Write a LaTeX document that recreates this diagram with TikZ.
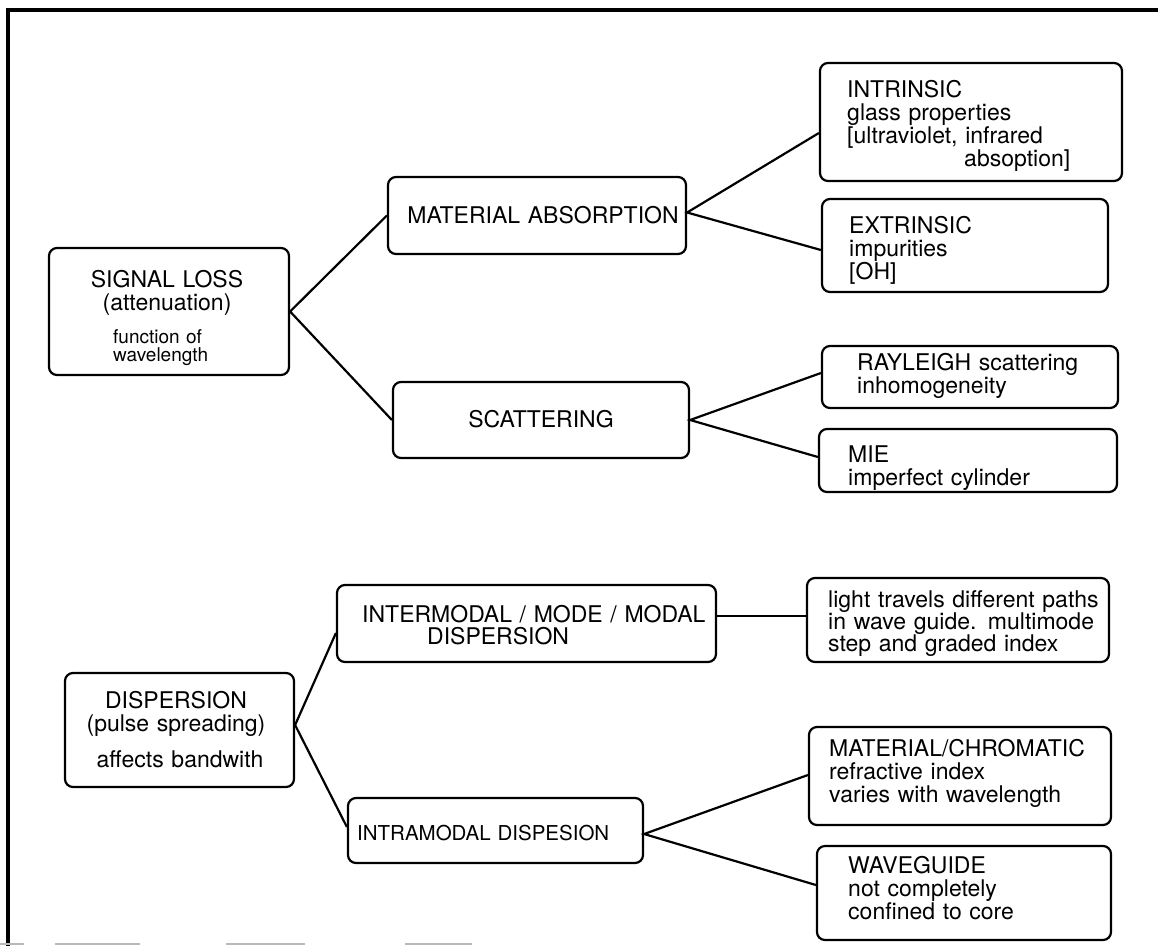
\documentclass[tikz,border=0pt]{standalone}
\usepackage{fontspec}
\setmainfont{TeX Gyre Heros}
\begin{document}
\begin{tikzpicture}[x=1pt, y=-1pt,
  rbox/.style={draw, line width=2.2pt, rounded corners=8pt, inner sep=0pt},
  lt/.style={inner sep=0pt, anchor=base west, text width=380pt, align=left,
             font=\fontsize{23}{23.3}\selectfont},
  ct/.style={inner sep=0pt, anchor=base, text width=280pt, align=center,
             font=\fontsize{23}{23.3}\selectfont},
  small/.style={font=\fontsize{19}{18.5}\selectfont},
  link/.style={line width=2.2pt},
  frame/.style={line width=3.2pt},
  scanline/.style={line width=1.5pt, gray!55}]
\useasboundingbox (0,0) rectangle (1158,946);

% outer frame
\draw[frame] (1158,10) -- (8,10) -- (8,946);
\foreach \a/\b in {0/24, 55/140, 226/305, 405/472}
  \draw[scanline] (\a,944) -- (\b,944);

% ---------- signal loss ----------
\node[rbox, minimum width=240pt, minimum height=127pt] (SL) at (169,311.5) {};
\node[ct] (tSL) at (167,287) {SIGNAL LOSS\\(attenuation)};
\node[lt, small] (tSLb) at (113,343) {function of\\wavelength};

\node[rbox, minimum width=298pt, minimum height=77pt] (MA) at (537,215.5) {};
\node[ct] (tMA) at (543,223) {MATERIAL ABSORPTION};

\node[rbox, minimum width=296pt, minimum height=76pt] (SC) at (541,420) {};
\node[ct] (tSC) at (541,427) {SCATTERING};

\node[rbox, minimum width=302pt, minimum height=118pt] (IN) at (971,122) {};
\node[lt] (tIN) at (847,97) {INTRINSIC\\glass properties\\{}[ultraviolet, infrared\\\hspace*{117pt}absoption]};

\node[rbox, minimum width=286pt, minimum height=93pt] (EX) at (965,245.5) {};
\node[lt] (tEX) at (849,233) {EXTRINSIC\\impurities\\{}[OH]};

\node[rbox, minimum width=296pt, minimum height=62pt] (RA) at (970,377) {};
\node[lt] (tRA) at (857,370) {RAYLEIGH scattering\\inhomogeneity};

\node[rbox, minimum width=298pt, minimum height=63pt] (MI) at (968,460.5) {};
\node[lt] (tMI) at (848,462) {MIE\\imperfect cylinder};

% ---------- dispersion ----------
\node[rbox, minimum width=229pt, minimum height=114pt] (DI) at (179.5,730) {};
\node[ct] (tDI) at (176,708) {DISPERSION\\(pulse spreading)};
\node[ct] (tDIb) at (180,767) {affects bandwith};

\node[rbox, minimum width=379pt, minimum height=77pt] (IE) at (526.5,623.5) {};
\node[lt, font=\fontsize{23}{22}\selectfont] (tIE) at (362,622) {INTERMODAL / MODE / MODAL\\\hspace*{65pt}DISPERSION};

\node[rbox, minimum width=295pt, minimum height=65pt] (IA) at (495.5,830.5) {};
\node[lt, font=\fontsize{20.5}{22}\selectfont] (tIA) at (357,840) {INTRAMODAL DISPESION};

\node[rbox, minimum width=302pt, minimum height=84pt] (LT) at (958,620) {};
\node[lt, font=\fontsize{23}{22}\selectfont] (tLT) at (828,607) {light travels different paths\\in wave guide. multimode\\step and graded index};

\node[rbox, minimum width=302pt, minimum height=98pt] (MC) at (960,776) {};
\node[lt] (tMC) at (829,756) {MATERIAL/CHROMATIC\\refractive index\\varies with wavelength};

\node[rbox, minimum width=294pt, minimum height=94pt] (WG) at (964,893) {};
\node[lt] (tWG) at (848,873) {WAVEGUIDE\\not completely\\confined to core};

% ---------- connectors ----------
\draw[link] (MA.west) -- (SL.east) -- (SC.west);
\draw[link] ([yshift=-11pt]IN.west) -- ([yshift=3pt]MA.east) -- ([yshift=-4.5pt]EX.west);
\draw[link] ([yshift=4pt]RA.west) -- (SC.east) -- ([yshift=3.5pt]MI.west);
\draw[link] ([yshift=-9.5pt]IE.west) -- ([yshift=5pt]DI.east) -- ([yshift=3.5pt]IA.west);
\draw[link] ([yshift=7.5pt]IE.east) -- ([yshift=4pt]LT.west);
\draw[link] ([yshift=1pt]MC.west) -- ([yshift=-3.5pt]IA.east) -- ([yshift=8pt]WG.west);
\end{tikzpicture}
\end{document}
